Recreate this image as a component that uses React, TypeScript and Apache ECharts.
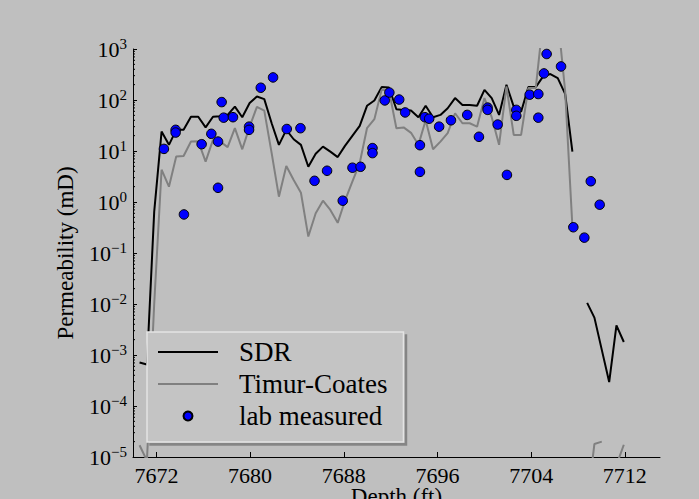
import React, { useEffect, useRef } from "react";
import * as echarts from "echarts";

const FONT = "'Liberation Serif', 'Times New Roman', serif";

// Depth samples (ft) for the log-derived curves
const depths = [
  7670.56, 7671.19, 7671.81, 7672.44, 7673.07, 7673.69, 7674.32, 7674.95, 7675.57, 7676.2,
  7676.83, 7677.45, 7678.08, 7678.7, 7679.33, 7679.96, 7680.58, 7681.21, 7681.84, 7682.46,
  7683.09, 7683.72, 7684.34, 7684.97, 7685.6, 7686.22, 7686.85, 7687.48, 7688.1, 7688.73,
  7689.36, 7689.98, 7690.61, 7691.23, 7691.86, 7692.49, 7693.11, 7693.74, 7694.37, 7694.99,
  7695.62, 7696.25, 7696.87, 7697.5, 7698.13, 7698.75, 7699.38, 7700.01, 7700.63, 7701.26,
  7701.89, 7702.51, 7703.14, 7703.76, 7704.39, 7705.02, 7705.64, 7706.27, 7706.9, 7707.52,
  7708.15, 7708.78, 7709.4, 7710.03, 7710.66, 7711.28, 7711.91,
];

// SDR permeability (mD)
const sdr: (number | null)[] = [
  7.1e-4, 6.5e-4, 0.64, 24, 13.2, 26, 26, 47, 47, 29,
  47, 48, 51, 74, 46, 87, 117, 104, 35, 13.2,
  26, 17, 13.2, 4.9, 8.8, 12.2, 9.7, 7.6, 12.6, 19.8,
  31, 77, 98, 179, 176, 66, 64, 62, 46, 77,
  46, 51, 69, 109, 80, 80, 77, 158, 109, 51,
  199, 74, 59, 179, 179, 290, 323, 269, 132, 9.7,
  null, 0.0105, 0.0054, 0.00126, 2.95e-4, 0.0038, 0.0018,
];

// Timur-Coates permeability (mD)
const timurCoates: (number | null)[] = [
  1.7e-5, 8.5e-6, 0.01, 4.3, 2.0, 7.8, 8.0, 15.3, 15.6, 6.2,
  16.5, 15.3, 11.9, 28, 10.8, 30, 73, 62, 9.1, 1.27,
  5.1, 2.7, 1.52, 0.21, 0.6, 1.06, 0.7, 0.39, 1.06, 2.5,
  5.8, 28, 42, 158, 154, 28, 29, 22.7, 13.2, 40,
  10.8, 15.3, 22.4, 55, 35, 35, 30, 109, 46, 13.2,
  184, 20.7, 20.7, 171, 171, 3700, 5000, 4200, 150, 0.33,
  null, 1.2e-6, 1.8e-5, 2.0e-5, null, 6.9e-6, 1.74e-5,
];

// Lab measured core permeability
const labDepth = [
  7672.64, 7673.64, 7673.64, 7674.35, 7675.86, 7676.69, 7677.26, 7677.26, 7677.57, 7677.74,
  7678.54, 7679.91, 7679.91, 7680.91, 7681.96, 7683.13, 7684.3, 7685.5, 7686.57, 7687.91,
  7688.74, 7689.43, 7690.45, 7690.45, 7691.5, 7691.89, 7692.73, 7693.24, 7694.5, 7694.5,
  7694.92, 7695.29, 7696.14, 7697.15, 7698.54, 7699.54, 7700.28, 7700.28, 7701.14, 7701.93,
  7702.73, 7702.73, 7703.87, 7704.61, 7704.61, 7705.09, 7705.32, 7706.55, 7707.6, 7708.54,
  7709.09, 7709.85,
];
const labPerm = [
  11.0, 26, 23, 0.57, 13.6, 21.7, 15.3, 1.9, 91, 45,
  46, 30, 26, 174, 277, 27, 28, 2.6, 4.1, 1.06,
  4.7, 4.9, 11.4, 9.1, 98, 140, 102, 57, 13, 3.9,
  46, 43, 30, 40, 51, 19, 71, 64, 33, 3.4,
  64, 49, 127, 131, 45, 332, 798, 455, 0.32, 0.2,
  2.55, 0.885,
];

const xTicks = [7672, 7680, 7688, 7696, 7704, 7712];
const yTicks = [1e-5, 1e-4, 1e-3, 1e-2, 1e-1, 1, 10, 100, 1000];
const X_MIN = 7670;
const X_MAX = 7715;

const minorTickValues: number[] = [];
for (let e = -5; e < 3; e++) {
  for (let m = 2; m <= 9; m++) minorTickValues.push(m * Math.pow(10, e));
}

export default function App() {
  const ref = useRef<HTMLDivElement>(null);
  useEffect(() => {
    if (!ref.current) return;
    const chart = echarts.init(ref.current, undefined, { renderer: "svg" });
    const fmt = (v: number) => {
      const e = Math.round(Math.log10(v));
      const s = e < 0 ? "\u2212" + -e : String(e);
      return "{b|10}{s|" + s + "}";
    };
    chart.setOption({
      animation: false,
      backgroundColor: "#bfbfbf",
      grid: { left: 133, right: 39, top: 49, bottom: 42, containLabel: false, outerBoundsMode: "none" },
      xAxis: {
        type: "value",
        min: X_MIN,
        max: X_MAX,
        axisLine: { show: true, lineStyle: { color: "#000", width: 1 } },
        axisTick: { show: true, inside: true, length: 5, customValues: xTicks, lineStyle: { color: "#000" } },
        axisLabel: {
          customValues: xTicks,
          formatter: (v: number) => String(Math.round(v)),
          fontFamily: FONT,
          fontSize: 22,
          color: "#000",
          margin: 7,
        },
        splitLine: { show: false },
        name: "Depth (ft)",
        nameLocation: "middle",
        nameGap: 28,
        nameMoveOverlap: false,
        nameTextStyle: { fontFamily: FONT, fontSize: 23, color: "#000" },
      },
      yAxis: {
        type: "log",
        logBase: 10,
        min: 1e-5,
        max: 1e3,
        axisLine: { show: true, lineStyle: { color: "#000", width: 1 } },
        axisTick: { show: true, inside: true, length: 4, customValues: yTicks, lineStyle: { color: "#000" } },
        axisLabel: {
          customValues: yTicks,
          formatter: fmt,
          margin: 6,
          rich: {
            b: { fontFamily: FONT, fontSize: 22, color: "#000", lineHeight: 26 },
            s: { fontFamily: FONT, fontSize: 15, color: "#000", lineHeight: 12, verticalAlign: "top" },
          },
        },
        splitLine: { show: false },
        minorTick: { show: false },
        name: "Permeability (mD)",
        nameLocation: "middle",
        nameGap: 56,
        nameMoveOverlap: false,
        nameTextStyle: { fontFamily: FONT, fontSize: 23, color: "#000" },
      },
      legend: {
        data: [
          { name: "SDR", itemStyle: { opacity: 0 } },
          { name: "Timur-Coates", itemStyle: { opacity: 0 } },
          { name: "lab measured" },
        ],
        orient: "vertical",
        left: 147,
        top: 332,
        itemWidth: 60,
        itemHeight: 9,
        itemGap: 0,
        padding: [4, 16, 10, 10],
        backgroundColor: "#c4c4c4",
        borderColor: "#e4e4e4",
        borderWidth: 1.5,
        borderRadius: 0,
        shadowColor: "rgba(0,0,0,0.3)",
        shadowBlur: 0,
        shadowOffsetX: 3,
        shadowOffsetY: 3,
        textStyle: { fontFamily: FONT, fontSize: 27, color: "#000", lineHeight: 32, padding: [0, 0, 0, 16] },
      },
      series: [
        {
          name: "SDR",
          type: "line",
          data: depths.map((d, i) => [d, sdr[i] == null ? "-" : sdr[i]]),
          symbol: "none",
          connectNulls: false,
          lineStyle: { color: "#000", width: 2 },
          itemStyle: { color: "#000" },
          clip: true,
        },
        {
          name: "Timur-Coates",
          type: "line",
          data: depths.map((d, i) => [d, timurCoates[i] == null ? "-" : timurCoates[i]]),
          symbol: "none",
          connectNulls: false,
          lineStyle: { color: "#808080", width: 2 },
          itemStyle: { color: "#808080" },
          clip: true,
        },
        {
          name: "lab measured",
          type: "scatter",
          data: labDepth.map((d, i) => [d, labPerm[i]]),
          symbol: "circle",
          symbolSize: 9.5,
          itemStyle: { color: "#0000ff", borderColor: "#000", borderWidth: 1, opacity: 1 },
          z: 3,
        },
        {
          type: "custom",
          coordinateSystem: "cartesian2d",
          silent: true,
          clip: false,
          data: minorTickValues.map((v) => [X_MIN, v]),
          renderItem: (params: any, api: any) => {
            const p = api.coord([api.value(0), api.value(1)]);
            return {
              type: "line",
              shape: { x1: p[0], y1: p[1], x2: p[0] + 2, y2: p[1] },
              style: { stroke: "#000", lineWidth: 1 },
            };
          },
          z: 1,
        },
      ],
    });
    return () => chart.dispose();
  }, []);
  return (
    <div
      ref={ref}
      style={{ position: "fixed", left: 0, top: 0, width: 699, height: 499, background: "#bfbfbf" }}
    />
  );
}
